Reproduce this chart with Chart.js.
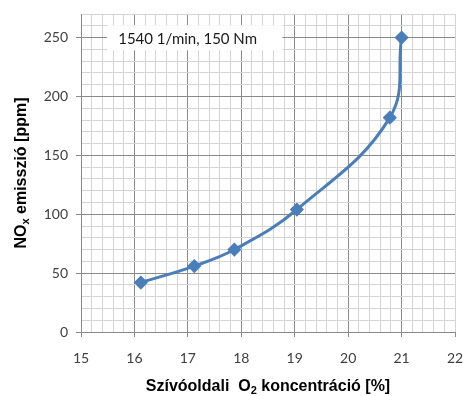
<!DOCTYPE html>
<html>
<head>
<meta charset="utf-8">
<script src="https://cdn.jsdelivr.net/npm/chart.js@4/dist/chart.umd.min.js"></script>
<style>
html,body{margin:0;padding:0;background:#fff;}
#wrap{width:463px;height:396px;position:relative;}
</style>
</head>
<body>
<div id="wrap"><canvas id="c" width="463" height="396"></canvas></div>
<script>
// Data
const o2Values = [16.12, 17.12, 17.87, 19.04, 20.78, 21.0];
const noxValues = [42, 56, 70, 104, 182, 250];
const xTickLabels = [15, 16, 17, 18, 19, 20, 21, 22];
const yTickLabels = [0, 50, 100, 150, 200, 250];
const annotationText = "1540 1/min, 150 Nm";
const xTitleParts = ["Szívóoldali  O", "2", " koncentráció [%]"];
const yTitleParts = ["NO", "x", " emisszió [ppm]"];

const X_MIN = 15, X_MAX = 22, X_MINOR = 0.2;
const Y_MIN = 0, Y_MAX = 270, Y_MINOR = 10;

const MAJOR = '#8a8a8a', MINOR = '#d4d4d4';
const TICKFONT = "Lato, 'Open Sans', sans-serif";
const TITLEFONT = "'Liberation Sans', Arial, sans-serif";

function isMajorX(v){ return xTickLabels.some(t => Math.abs(t - v) < 1e-6); }
function isMajorY(v){ return yTickLabels.some(t => Math.abs(t - v) < 1e-6); }

const titlesPlugin = {
  id: 'titles',
  afterDraw(chart) {
    const ctx = chart.ctx, a = chart.chartArea;
    ctx.save();
    ctx.fillStyle = '#000';
    const mainF = "bold 16px " + TITLEFONT, subF = "bold 11px " + TITLEFONT;
    ctx.font = mainF; const w0 = ctx.measureText(xTitleParts[0]).width;
    ctx.font = subF; const w1 = ctx.measureText(xTitleParts[1]).width;
    ctx.font = mainF; const w2 = ctx.measureText(xTitleParts[2]).width;
    let x = (a.left + a.right) / 2 - (w0 + w1 + w2) / 2;
    const yb = 391;
    ctx.textBaseline = 'alphabetic'; ctx.textAlign = 'left';
    ctx.font = mainF; ctx.fillText(xTitleParts[0], x, yb); x += w0;
    ctx.font = subF; ctx.fillText(xTitleParts[1], x, yb + 3); x += w1;
    ctx.font = mainF; ctx.fillText(xTitleParts[2], x, yb);
    ctx.save();
    ctx.translate(26, (a.top + a.bottom) / 2);
    ctx.rotate(-Math.PI / 2);
    ctx.font = mainF; const v0 = ctx.measureText(yTitleParts[0]).width;
    ctx.font = subF; const v1 = ctx.measureText(yTitleParts[1]).width;
    ctx.font = mainF; const v2 = ctx.measureText(yTitleParts[2]).width;
    let yx = -(v0 + v1 + v2) / 2;
    ctx.font = mainF; ctx.fillText(yTitleParts[0], yx, 0); yx += v0;
    ctx.font = subF; ctx.fillText(yTitleParts[1], yx, 3); yx += v1;
    ctx.font = mainF; ctx.fillText(yTitleParts[2], yx, 0);
    ctx.restore();
    ctx.restore();
  }
};

const boxPlugin = {
  id: 'box',
  beforeDatasetsDraw(chart) {
    const ctx = chart.ctx, xs = chart.scales.x, ys = chart.scales.y;
    const l = xs.getPixelForValue(15.49), r = xs.getPixelForValue(18.77);
    const t = ys.getPixelForValue(260.5), b = ys.getPixelForValue(239.2);
    ctx.save();
    ctx.fillStyle = '#fff';
    ctx.fillRect(l, t, r - l, b - t);
    ctx.fillStyle = '#1a1a1a';
    ctx.font = "15px " + TICKFONT;
    ctx.textBaseline = 'middle';
    ctx.fillText(annotationText, l + 11, (t + b) / 2 + 1);
    ctx.restore();
  }
};

new Chart(document.getElementById('c'), {
  type: 'scatter',
  data: {
    datasets: [{
      data: o2Values.map((x, i) => ({x: x, y: noxValues[i]})),
      showLine: true,
      borderColor: '#4a7ebb',
      backgroundColor: '#4a7ebb',
      borderWidth: 3,
      tension: 0.4,
      pointStyle: 'rectRot',
      pointRadius: 5,
      pointHoverRadius: 5
    }]
  },
  options: {
    responsive: false,
    animation: false,
    devicePixelRatio: 1,
    layout: { padding: { top: 14, right: 7, left: 0, bottom: 0 } },
    plugins: { legend: { display: false }, tooltip: { enabled: false } },
    scales: {
      x: {
        type: 'linear', min: X_MIN, max: X_MAX,
        afterBuildTicks(s) {
          const t = []; const n = Math.round((X_MAX - X_MIN) / X_MINOR);
          for (let i = 0; i <= n; i++) t.push({value: +(X_MIN + i * X_MINOR).toFixed(4)});
          s.ticks = t;
        },
        afterFit(s) { s.height = 64; s.paddingRight = 0; s.paddingLeft = 0; },
        ticks: {
          autoSkip: false, maxRotation: 0, padding: 13,
          color: '#404040', font: { family: TICKFONT, size: 14 },
          callback: (v) => isMajorX(v) ? String(Math.round(v)) : ''
        },
        grid: {
          color: (c) => (c.tick && isMajorX(c.tick.value) && c.tick.value < X_MAX - 1e-6) ? MAJOR : MINOR,
          tickColor: (c) => (c.tick && isMajorX(c.tick.value)) ? MAJOR : 'rgba(0,0,0,0)',
          tickLength: 5,
          lineWidth: 1
        },
        border: { color: MAJOR, width: 1 }
      },
      y: {
        type: 'linear', min: Y_MIN, max: Y_MAX,
        afterBuildTicks(s) {
          const t = []; for (let v = Y_MIN; v <= Y_MAX; v += Y_MINOR) t.push({value: v});
          s.ticks = t;
        },
        afterFit(s) { s.width = 81; s.paddingTop = 0; s.paddingBottom = 0; },
        ticks: {
          autoSkip: false, padding: 8,
          color: '#404040', font: { family: TICKFONT, size: 14 },
          callback: (v) => isMajorY(v) ? String(v) : ''
        },
        grid: {
          color: (c) => (c.tick && isMajorY(c.tick.value)) ? MAJOR : MINOR,
          tickColor: (c) => (c.tick && isMajorY(c.tick.value)) ? MAJOR : 'rgba(0,0,0,0)',
          tickLength: 5,
          lineWidth: 1
        },
        border: { color: MAJOR, width: 1 }
      }
    }
  },
  plugins: [boxPlugin, titlesPlugin]
});
</script>
</body>
</html>
